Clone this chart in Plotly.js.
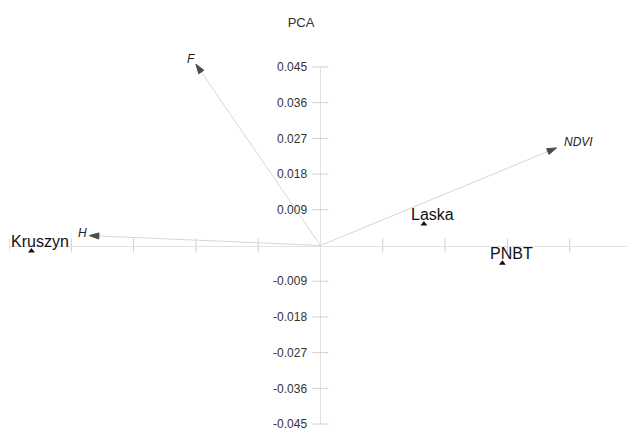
<!DOCTYPE html>
<html>
<head>
<meta charset="utf-8">
<script src="https://cdn.plot.ly/plotly-3.0.1.min.js"></script>
<style>
  html, body { margin: 0; padding: 0; background: #ffffff; }
  #chart { width: 627px; height: 430px; }
</style>
</head>
<body>
<div id="chart"></div>
<script>
// Variable loadings drawn as vectors from the origin
const varNames = ['F', 'NDVI', 'H'];
const varX = [-0.0200, 0.0379, -0.0371];
const varY = [0.0457, 0.0246, 0.0025];

// Site scores drawn as triangles
const siteNames = ['Kruszyn', 'Laska', 'PNBT'];
const siteX = [-0.0464, 0.0166, 0.0292];
const siteY = [-0.0014, 0.0054, -0.0045];

// Axis ticks
const xTicks = [-0.05, -0.04, -0.03, -0.02, -0.01, 0.01, 0.02, 0.03, 0.04];
const yTicks = [0.045, 0.036, 0.027, 0.018, 0.009, -0.009, -0.018, -0.027, -0.036, -0.045];
const yTickLabels = ['0.045', '0.036', '0.027', '0.018', '0.009', '-0.009', '-0.018', '-0.027', '-0.036', '-0.045'];

// Label offsets (px) for the vector names, relative to the arrow tips
const varLabelShift = [[-5, 5], [22, 6], [-7, 3]];
// Label offset (px) for the site names
const siteLabelShift = [9, 9.5];

const FONT = 'Liberation Sans, Arial, Helvetica, sans-serif';
const xRange = [-0.05, 0.0492];
const yRange = [-0.0465, 0.0465];
const xZero = (0 - xRange[0]) / (xRange[1] - xRange[0]);
const yZero = (0 - yRange[0]) / (yRange[1] - yRange[0]);
const yLo = Math.min(...yTicks);
const yHi = Math.max(...yTicks);

const traces = [];

// Vectors: grey shaft with a black arrowhead at the tip
varNames.forEach((name, i) => {
  traces.push({
    type: 'scatter',
    mode: 'lines+markers',
    x: [0, varX[i]],
    y: [0, varY[i]],
    line: { color: '#d6d6d6', width: 1 },
    marker: {
      symbol: 'arrow',
      angleref: 'previous',
      size: [0, 10],
      color: '#000000',
      line: { width: 1, color: '#000000' }
    },
    cliponaxis: false,
    hoverinfo: 'skip',
    showlegend: false
  });
});

// Sites
traces.push({
  type: 'scatter',
  mode: 'markers',
  x: siteX,
  y: siteY,
  marker: { symbol: 'triangle-up', size: 6, color: '#111111', line: { width: 0 } },
  cliponaxis: false,
  hoverinfo: 'skip',
  showlegend: false
});

const shapes = [];
const tickColor = '#cfcfcf';

// Vertical axis line, spanning the labelled ticks only
shapes.push({
  type: 'line', xref: 'x', yref: 'y',
  x0: 0, x1: 0, y0: yLo, y1: yHi,
  line: { color: '#e0e0e0', width: 1 },
  layer: 'below'
});

xTicks.forEach(v => {
  shapes.push({
    type: 'line', xref: 'x', yref: 'y',
    ysizemode: 'pixel', yanchor: 0, y0: -7, y1: 7,
    x0: v, x1: v,
    line: { color: tickColor, width: 1 },
    layer: 'below'
  });
});
yTicks.forEach(v => {
  shapes.push({
    type: 'line', xref: 'x', yref: 'y',
    xsizemode: 'pixel', xanchor: 0, x0: -8, x1: 8,
    y0: v, y1: v,
    line: { color: tickColor, width: 1 },
    layer: 'below'
  });
});

const annotations = [];
varNames.forEach((name, i) => {
  annotations.push({
    x: varX[i], y: varY[i], xref: 'x', yref: 'y',
    text: name, showarrow: false,
    xshift: varLabelShift[i][0], yshift: varLabelShift[i][1],
    font: { family: FONT, size: 12, color: '#222222', style: 'italic' }
  });
});
siteNames.forEach((name, i) => {
  annotations.push({
    x: siteX[i], y: siteY[i], xref: 'x', yref: 'y',
    text: name, showarrow: false,
    xshift: siteLabelShift[0], yshift: siteLabelShift[1],
    font: { family: FONT, size: 16, color: '#111111' }
  });
});

const layout = {
  width: 627,
  height: 430,
  margin: { l: 9, r: 0, t: 61, b: 0, pad: 0 },
  paper_bgcolor: '#ffffff',
  plot_bgcolor: '#ffffff',
  font: { family: FONT, color: '#333333' },
  title: {
    text: 'PCA',
    font: { family: FONT, size: 13, color: '#333333' },
    xref: 'container', x: 301 / 627, xanchor: 'center',
    yref: 'container', y: 1 - 22.5 / 430, yanchor: 'middle'
  },
  xaxis: {
    range: xRange,
    anchor: 'free', position: yZero,
    showgrid: false, zeroline: false,
    showline: true, linecolor: '#e2e2e2', linewidth: 1,
    tickvals: xTicks, ticks: '', showticklabels: false,
    fixedrange: true
  },
  yaxis: {
    range: yRange,
    anchor: 'free', position: xZero,
    showgrid: false, zeroline: false,
    showline: false,
    tickvals: yTicks, ticktext: yTickLabels,
    ticks: 'outside', ticklen: 11, tickcolor: 'rgba(0,0,0,0)',
    ticklabeloverflow: 'allow',
    tickfont: { family: FONT, size: 12, color: '#333333' },
    fixedrange: true
  },
  shapes: shapes,
  annotations: annotations,
  showlegend: false,
  hovermode: false
};

Plotly.newPlot('chart', traces, layout, { staticPlot: true, displayModeBar: false });
</script>
</body>
</html>
